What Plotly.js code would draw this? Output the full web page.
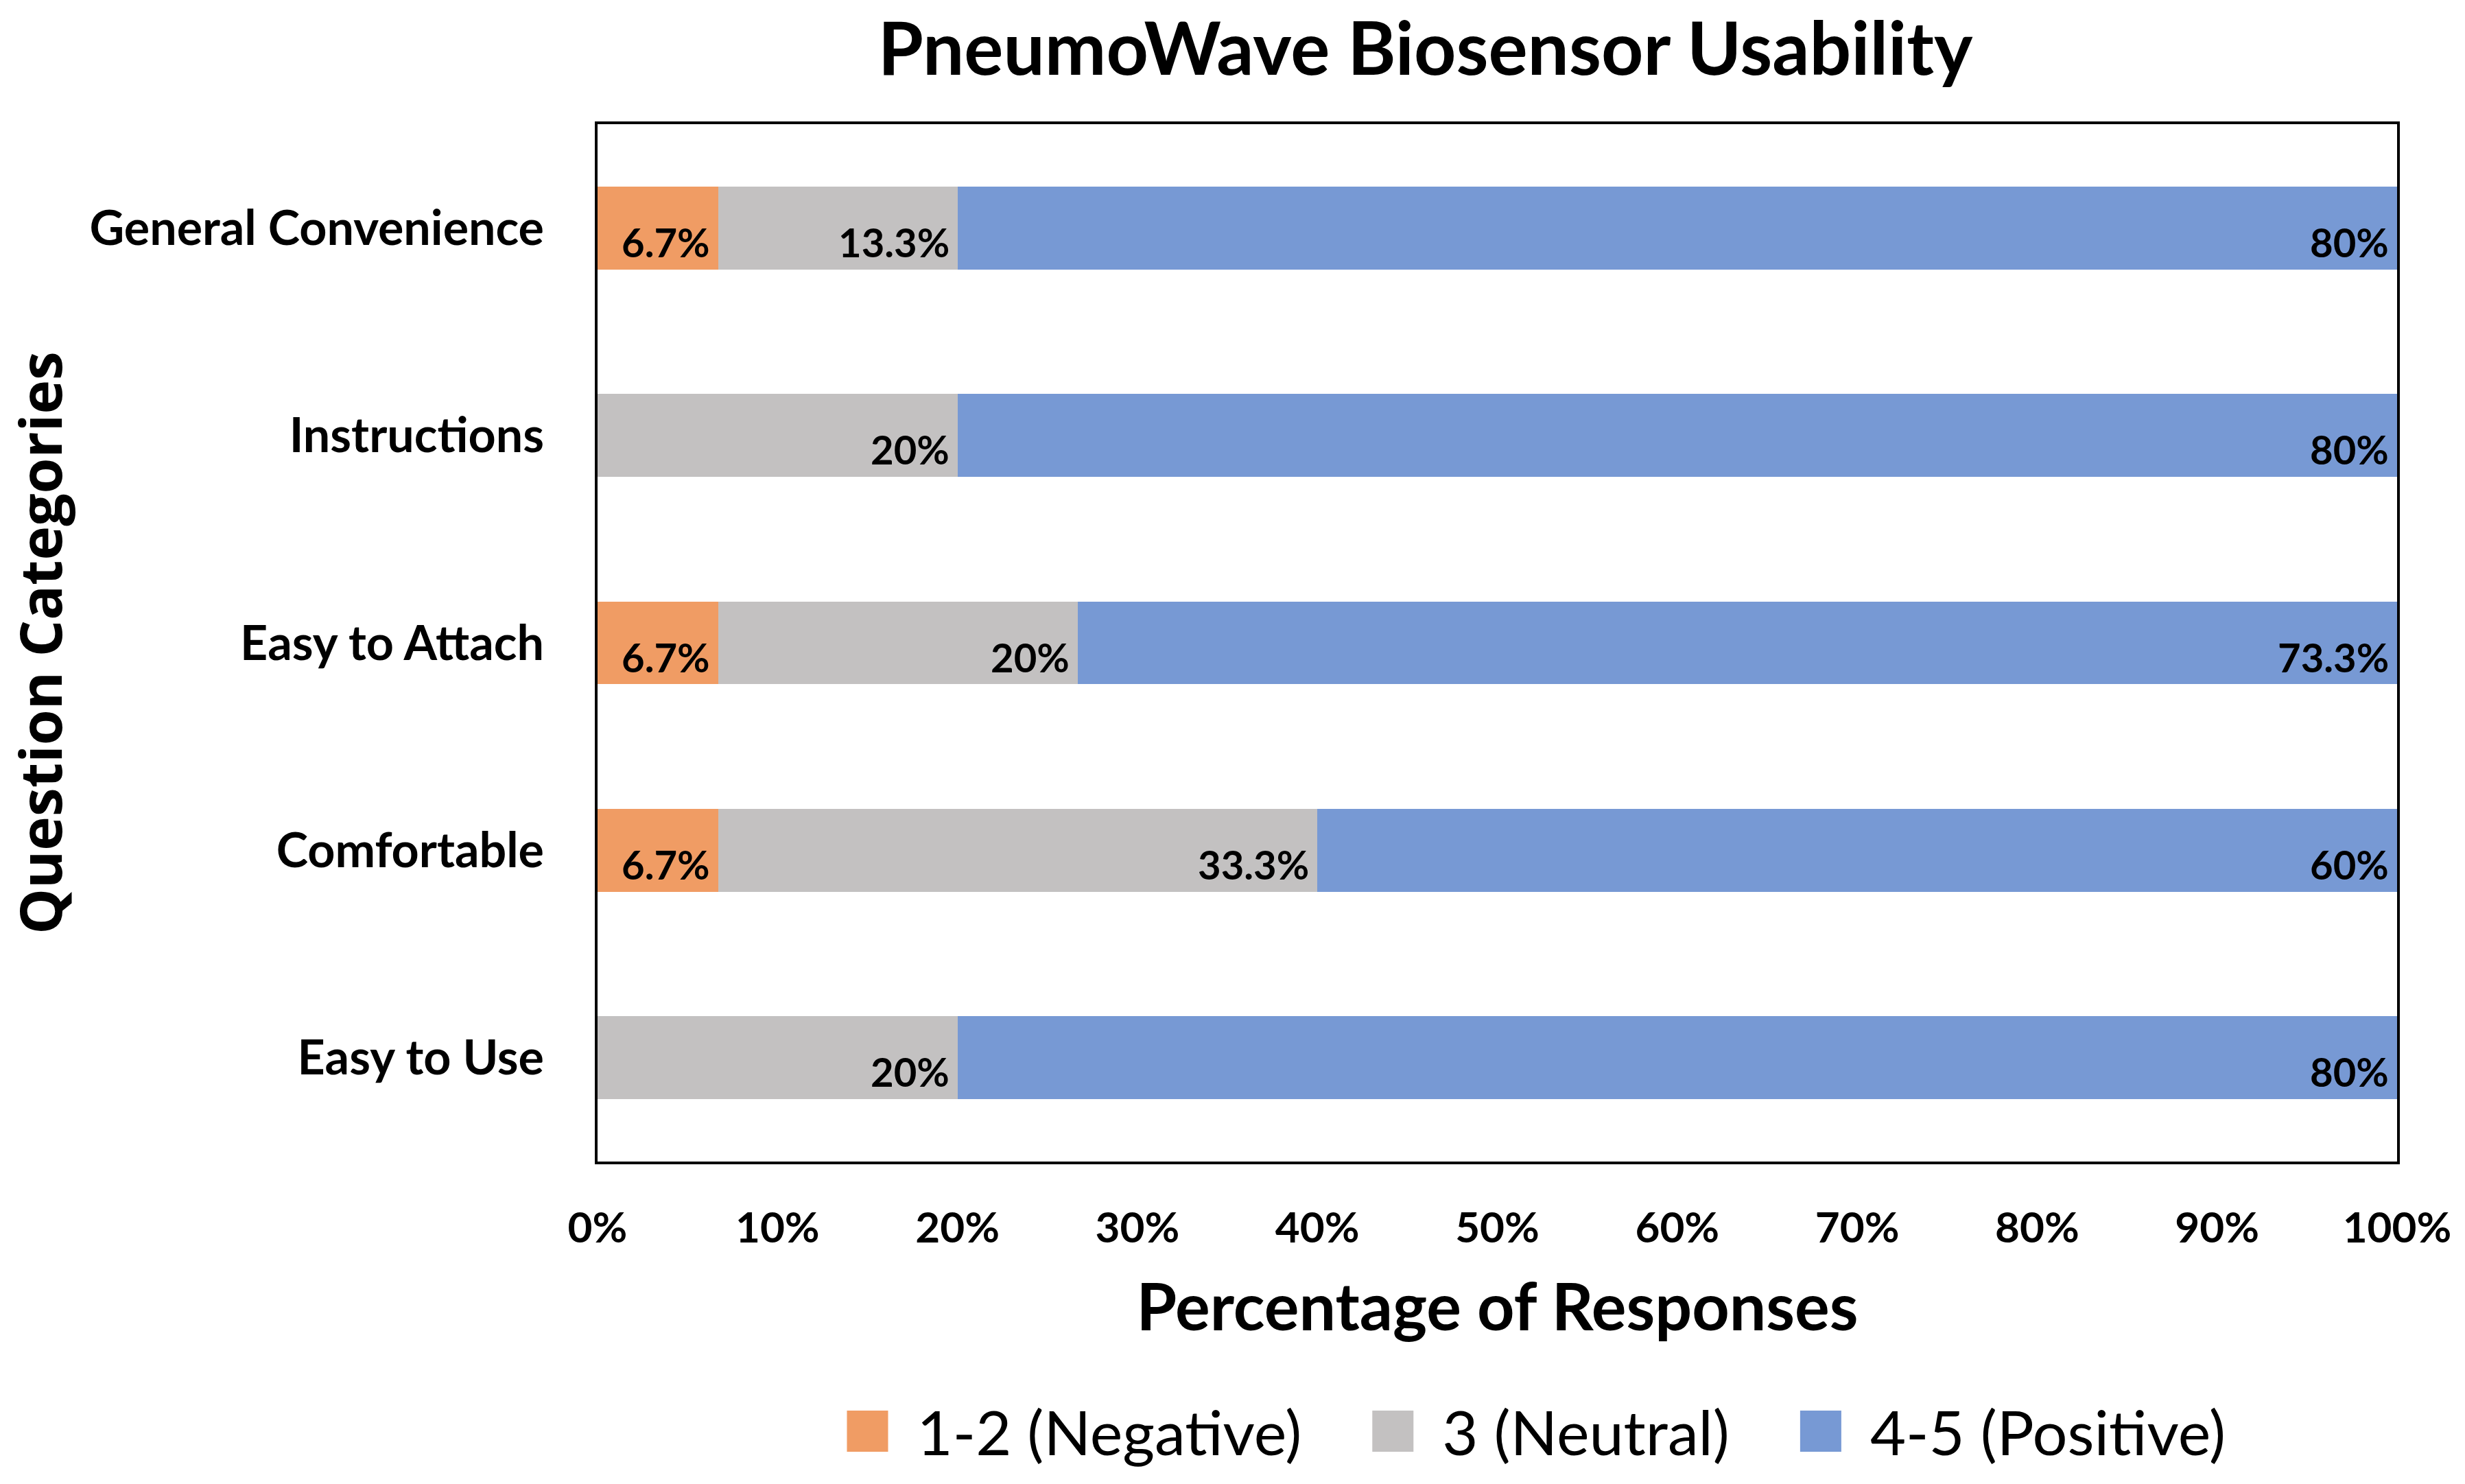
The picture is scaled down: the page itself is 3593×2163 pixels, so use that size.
<!DOCTYPE html>
<html>
<head>
<meta charset="utf-8">
<script src="https://cdn.plot.ly/plotly-3.0.1.min.js"></script>
<style>
  html, body { margin: 0; padding: 0; background: #fff; }
  #chart { width: 3593px; height: 2163px; }
</style>
</head>
<body>
<div id="chart"></div>
<script>
// question categories, top to bottom
const categories = ['General Convenience', 'Instructions', 'Easy to Attach', 'Comfortable', 'Easy to Use'];

// percentage of responses per rating group
const negative = [6.7, 0, 6.7, 6.7, 0];
const neutral = [13.3, 20, 20, 33.3, 20];
const positive = [80, 80, 73.3, 60, 80];

const seriesNames = ['1-2 (Negative)', '3 (Neutral)', '4-5 (Positive)'];
const seriesColors = ['#F09C64', '#C3C1C1', '#7799D4'];

const tickVals = [0, 10, 20, 30, 40, 50, 60, 70, 80, 90, 100];

const series = [negative, neutral, positive];
const boldFont = 'Lato, "Open Sans", sans-serif';

var data = series.map((vals, i) => ({
  type: 'bar',
  orientation: 'h',
  name: seriesNames[i],
  y: categories,
  x: vals,
  marker: {color: seriesColors[i], line: {width: 0}},
  hoverinfo: 'none'
}));

// value labels at the right end of each segment, a little below the middle
var annotations = [];
categories.forEach((cat, j) => {
  let end = 0;
  series.forEach(vals => {
    end += vals[j];
    if (vals[j] > 0) {
      annotations.push({
        x: end, y: cat, xref: 'x', yref: 'y',
        text: '<b>' + vals[j] + '%</b>',
        showarrow: false,
        xanchor: 'right', yanchor: 'middle',
        xshift: -10, yshift: -20,
        font: {family: boldFont, size: 58, color: '#000'}
      });
    }
  });
});

var layout = {
  width: 3593,
  height: 2163,
  barmode: 'stack',
  bargap: 0.6,
  paper_bgcolor: '#fff',
  plot_bgcolor: '#fff',
  margin: {l: 871, r: 99, t: 181, b: 465},
  title: {
    text: '<b>PneumoWave Biosensor Usability</b>',
    font: {family: boldFont, size: 107, color: '#000'},
    xref: 'paper', x: 0.46, xanchor: 'center',
    yref: 'container', y: 0.967, yanchor: 'middle'
  },
  xaxis: {
    range: [0, 100],
    tickvals: tickVals,
    ticktext: tickVals.map(v => '<b>' + v + '%</b>'),
    tickfont: {family: boldFont, size: 62, color: '#000'},
    ticklabelstandoff: 40,
    showgrid: false,
    zeroline: false,
    showline: true,
    linecolor: '#000',
    linewidth: 4,
    mirror: true,
    fixedrange: true,
    title: {
      text: '<b>Percentage of Responses</b>',
      font: {family: boldFont, size: 95, color: '#000'},
      standoff: 50
    }
  },
  yaxis: {
    autorange: 'reversed',
    tickfont: {family: boldFont, size: 70, color: '#000'},
    ticktext: categories.map(c => '<b>' + c + '</b>'),
    tickvals: categories,
    ticklabelstandoff: 60,
    showgrid: false,
    zeroline: false,
    showline: true,
    linecolor: '#000',
    linewidth: 4,
    mirror: true,
    fixedrange: true,
    title: {
      text: '<b>Question Categories</b>',
      font: {family: '"Open Sans", sans-serif', size: 84, color: '#000'},
      standoff: 60
    }
  },
  showlegend: true,
  legend: {
    orientation: 'h',
    x: 0.504, xanchor: 'center',
    y: -0.26, yanchor: 'middle',
    font: {family: 'Lato, "Open Sans", sans-serif', size: 90, color: '#000'},
    itemwidth: 190,
    traceorder: 'normal'
  },
  annotations: annotations
};

Plotly.newPlot('chart', data, layout, {staticPlot: true}).then(() => {
  // enlarge the small bar swatches in the legend
  document.querySelectorAll('.legend .legendpoints path').forEach(p => {
    p.setAttribute('transform', 'translate(128,0) scale(5)');
  });
});
</script>
</body>
</html>
